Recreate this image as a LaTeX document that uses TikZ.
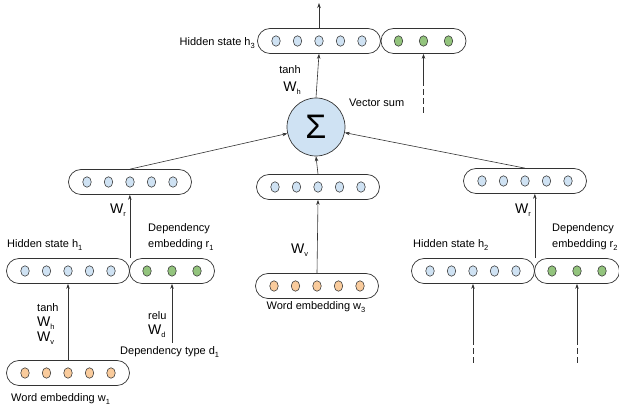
\documentclass[tikz,border=0pt]{standalone}
\usepackage{fontspec}
\setmainfont{Liberation Sans}
\usetikzlibrary{arrows.meta,shapes.geometric}
\definecolor{cblue}{HTML}{CFE2F3}
\definecolor{corange}{HTML}{F9CB9C}
\definecolor{cgreen}{HTML}{93C47D}
\definecolor{cline}{HTML}{333333}
\newcommand{\sbs}[1]{\raisebox{-0.45ex}{\fontsize{7.5}{8}\selectfont #1}}
\begin{document}
\begin{tikzpicture}[x=1pt,y=-1pt,
  pill/.style={draw=cline, rounded corners=12.5pt, minimum height=25pt, inner sep=0pt, line width=0.7pt},
  pillfive/.style={pill, minimum width=123pt},
  pillthree/.style={pill, minimum width=85pt},
  dot/.style={ellipse, draw=cline, line width=0.6pt, minimum width=8.5pt, minimum height=10.5pt, inner sep=0pt},
  arr/.style={-{Stealth[length=5pt,width=3.5pt]}, line width=0.6pt, draw=cline},
  dsh/.style={line width=0.6pt, draw=cline, dash pattern=on 6pt off 3pt},
  lbl/.style={font=\fontsize{11}{13}\selectfont, inner sep=0pt},
  wlbl/.style={font=\fontsize{14}{16}\selectfont, inner sep=0pt}]
\useasboundingbox (0,0) rectangle (619,411);
\clip (0,0) rectangle (619,411);

% ---- pills ----
\node[pillfive]  (h3b) at (319,41) {};
\node[pillthree] (h3g) at (423.5,41) {};
\node[pillfive]  (lm)  at (130,182) {};
\node[pillfive]  (mm)  at (318,187) {};
\node[pillfive]  (rm)  at (525,181) {};
\node[pillfive]  (h1b) at (68,271) {};
\node[pillthree] (h1g) at (172,271) {};
\node[pillfive]  (w1)  at (68,373) {};
\node[pillfive]  (w3)  at (317,286) {};
\node[pillfive]  (h2b) at (473,271) {};
\node[pillthree] (h2g) at (577,271) {};

% ---- dots ----
\foreach \p/\c in {h3b/cblue, lm/cblue, mm/cblue, rm/cblue, h1b/cblue, h2b/cblue, w1/corange, w3/corange}{
  \foreach \o [count=\i] in {-43,-21.5,0,21.5,43}{
    \node[dot, fill=\c] (\p d\i) at ([xshift=\o pt]\p.center) {};
  }
}
\foreach \p in {h3g, h1g, h2g}{
  \foreach \o [count=\i] in {-25,0,25}{
    \node[dot, fill=cgreen] (\p d\i) at ([xshift=\o pt]\p.center) {};
  }
}

% ---- sum ----
\node[circle, draw=cline, line width=0.7pt, fill=cblue, minimum size=58pt, inner sep=0pt,
      font=\fontsize{34}{36}\selectfont] (sig) at (316,127) {Σ};

% ---- free coordinates ----
\coordinate (top) at (319,3);
\coordinate (t1) at (h3g.center |- 0,113);
\coordinate (t2) at (h3g.center |- 0,83);
\coordinate (b1) at (h2b.center |- 0,363);
\coordinate (b2) at (h2b.center |- 0,342);
\coordinate (g1) at (h2g.center |- 0,363);
\coordinate (g2) at (h2g.center |- 0,342);
\coordinate (dty) at (h1g.center |- 0,343);

% ---- connectors ----
\draw[arr] (h3b.north) -- (top);
\draw[arr] (sig.north) -- (h3b.south);
\draw[dsh] (t1) -- (t2);
\draw[arr] (t2) -- (h3g.south);
\draw[arr] (lm.north) -- (sig);
\draw[arr] (mm.north) -- (sig.south);
\draw[arr] (rm.north) -- (sig);
\draw[arr] (h1b.north east) -- (h1b.north east |- lm.south);
\draw[arr] (h2b.north east) -- (h2b.north east |- rm.south);
\draw[arr] (w1.north) -- (h1b.south);
\draw[arr] (dty) -- (h1g.south);
\draw[arr] (w3.north) -- (mm.south);
\draw[dsh] (b1) -- (b2);
\draw[arr] (b2) -- (h2b.south);
\draw[dsh] (g1) -- (g2);
\draw[arr] (g2) -- (h2g.south);

% ---- labels ----
\node[lbl, anchor=east] (lh3) at (255,43) {Hidden state h\sbs{3}};
\node[lbl] (ltanh3) at (290,70) {tanh};
\node[wlbl] (lwh3) at (292,88) {W\sbs{h}};
\node[lbl, anchor=west] (lvs) at (349,103) {Vector sum};

\node[wlbl, anchor=east] (lwr1) at (126,210) {W\sbs{r}};
\node[wlbl, anchor=east] (lwr2) at (531,210) {W\sbs{r}};

\node[lbl, anchor=west] (lh1) at (7,245) {Hidden state h\sbs{1}};
\node[lbl, anchor=west] (lde1a) at (148,229) {Dependency};
\node[lbl, anchor=west] (lde1b) at (148,245) {embedding r\sbs{1}};

\node[lbl, anchor=west] (ltanh1) at (37,308) {tanh};
\node[wlbl, anchor=west] (lwh1) at (37,323) {W\sbs{h}};
\node[wlbl, anchor=west] (lwv1) at (37,338) {W\sbs{v}};
\node[lbl, anchor=west] (lrelu) at (148,316) {relu};
\node[wlbl, anchor=west] (lwd) at (148,331) {W\sbs{d}};
\node[lbl, anchor=west] (ldt) at (120,352) {Dependency type d\sbs{1}};
\node[lbl, anchor=west] (lw1) at (11,399) {Word embedding w\sbs{1}};

\node[wlbl, anchor=west] (lwv3) at (291,250) {W\sbs{v}};
\node[lbl] (lw3) at (316,307) {Word embedding w\sbs{3}};

\node[lbl, anchor=west] (lh2) at (413,245) {Hidden state h\sbs{2}};
\node[lbl, anchor=west] (lde2a) at (552,229) {Dependency};
\node[lbl, anchor=west] (lde2b) at (552,245) {embedding r\sbs{2}};
\end{tikzpicture}
\end{document}
